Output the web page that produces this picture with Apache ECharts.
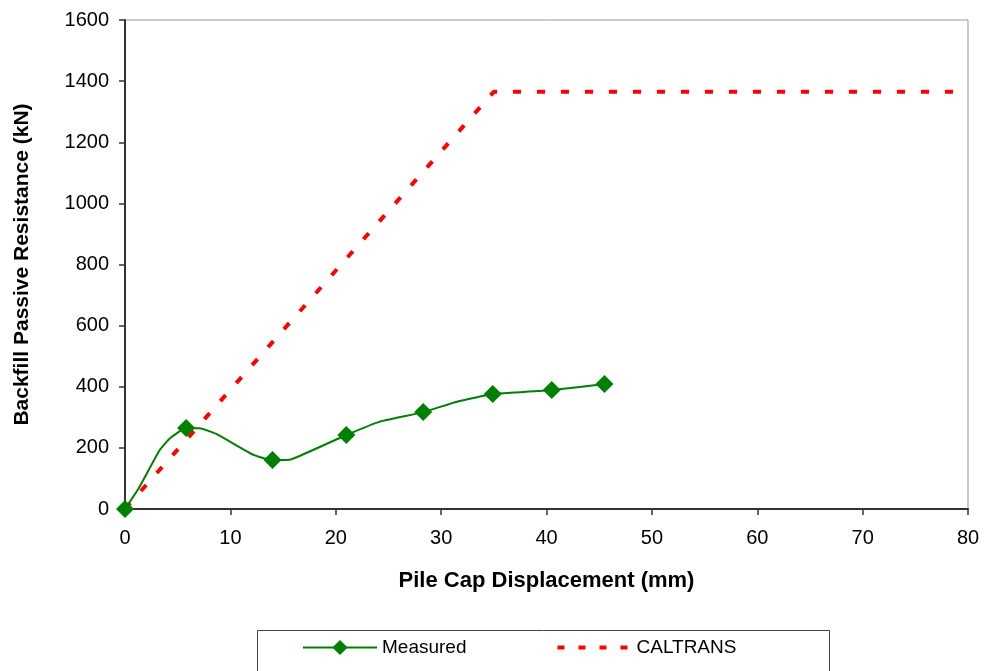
<!DOCTYPE html>
<html>
<head>
<meta charset="utf-8">
<script src="https://cdn.jsdelivr.net/npm/echarts@6/dist/echarts.min.js"></script>
<style>html,body{margin:0;padding:0;background:#fff}#c{width:987px;height:671px}</style>
</head>
<body>
<div id="c"></div>
<script>
// Measured curve: [displacement (mm), resistance (kN), isMarker]
const measuredX = [0, 1.3, 3.3, 4.3, 5.8, 7.1, 8.7, 12.2, 14.0, 15.8, 21.0, 24.2, 28.3, 31.5, 34.9, 37.0, 40.5, 45.5];
const measuredY = [0, 68, 193, 232, 265, 264, 245, 177, 160, 163, 242, 286, 317, 351, 376, 381, 389, 409];
const measuredMarker = [1, 0, 0, 0, 1, 0, 0, 0, 1, 0, 1, 0, 1, 0, 1, 0, 1, 1];
const caltransX = [0, 35.0, 80];
const caltransY = [0, 1365, 1365];
const xTicks = [0, 10, 20, 30, 40, 50, 60, 70, 80];
const yTicks = [0, 200, 400, 600, 800, 1000, 1200, 1400, 1600];

const measuredData = measuredX.map((x, i) => {
  const d = { value: [x, measuredY[i]] };
  if (!measuredMarker[i]) d.symbol = 'none';
  return d;
});
const caltransData = caltransX.map((x, i) => [x, caltransY[i]]);

const font = 'Liberation Sans, Arial, sans-serif';
const chart = echarts.init(document.getElementById('c'), null, { renderer: 'canvas' });
chart.setOption({
  animation: false,
  backgroundColor: '#fff',
  grid: { left: 125, right: 19, top: 20, bottom: 162, show: true, borderColor: '#999', borderWidth: 1 },
  xAxis: {
    type: 'value', min: 0, max: 80, interval: 10,
    name: 'Pile Cap Displacement (mm)', nameLocation: 'middle', nameGap: 61,
    nameTextStyle: { fontFamily: font, fontSize: 22, fontWeight: 'bold', color: '#000' },
    axisLine: { lineStyle: { color: '#333', width: 2 } },
    axisTick: { show: true, length: 6, lineStyle: { color: '#333', width: 1.5 } },
    axisLabel: { fontFamily: font, fontSize: 20, color: '#000', margin: 19, formatter: v => String(v) },
    splitLine: { show: false }
  },
  yAxis: {
    type: 'value', min: 0, max: 1600, interval: 200,
    name: 'Backfill Passive Resistance (kN)', nameLocation: 'middle', nameGap: 92,
    nameTextStyle: { fontFamily: font, fontSize: 21, fontWeight: 'bold', color: '#000' },
    axisLine: { show: true, lineStyle: { color: '#333', width: 2 } },
    axisTick: { show: true, length: 6, lineStyle: { color: '#333', width: 1.5 } },
    axisLabel: { fontFamily: font, fontSize: 20, color: '#000', margin: 16, formatter: v => String(v) },
    splitLine: { show: false }
  },
  legend: {
    left: 297, top: 633, itemGap: 89, itemWidth: 74, itemHeight: 19,
    textStyle: { fontFamily: font, fontSize: 19, color: '#000' },
    data: [
      { name: 'Measured' },
      { name: 'CALTRANS', itemStyle: { opacity: 0 }, lineStyle: { width: 4, type: [7, 14] } }
    ]
  },
  graphic: [{
    type: 'rect', left: 255, top: 628,
    shape: { width: 572, height: 42 },
    style: { fill: 'none', stroke: '#444', lineWidth: 1 }, z: -1
  }],
  series: [
    {
      name: 'Measured', type: 'line', smooth: 0.15, data: measuredData,
      symbol: 'diamond', symbolSize: 18, showSymbol: true,
      itemStyle: { color: '#008000' },
      lineStyle: { color: '#008000', width: 2 }, z: 3
    },
    {
      name: 'CALTRANS', type: 'line', data: caltransData,
      symbol: 'none',
      itemStyle: { color: '#ff0000' },
      lineStyle: { color: '#ff0000', width: 4, type: [8, 16] }, z: 2
    }
  ]
});
</script>
</body>
</html>
